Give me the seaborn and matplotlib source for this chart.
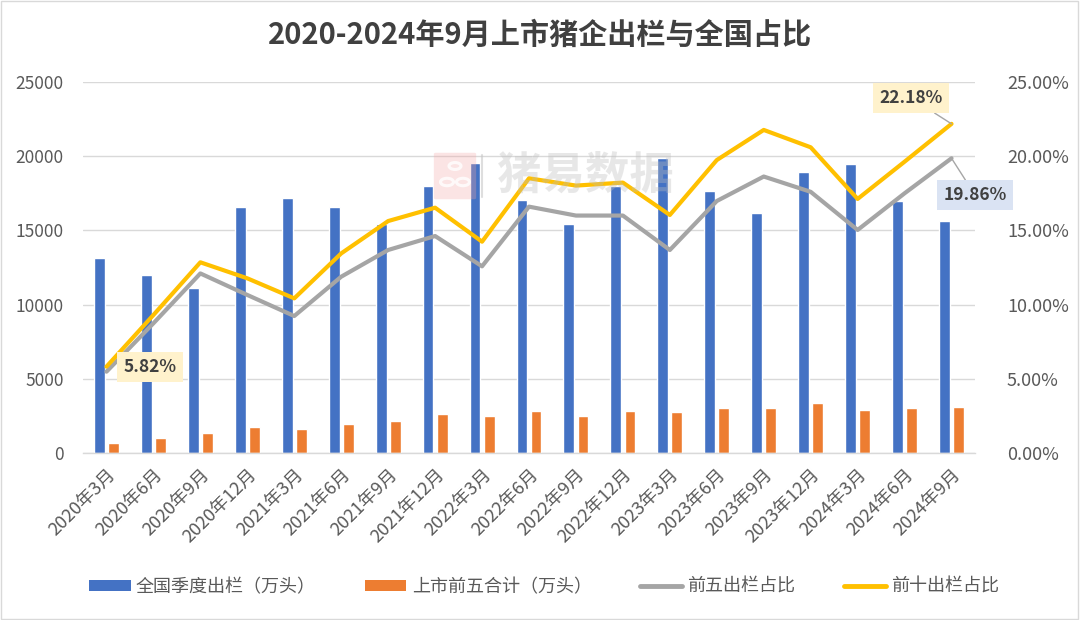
import numpy as np
import pandas as pd
import matplotlib
matplotlib.use('Agg')
import matplotlib.pyplot as plt
import seaborn as sns
from matplotlib.patches import Patch, Rectangle, FancyBboxPatch, Circle
from matplotlib.lines import Line2D
from matplotlib.ticker import FuncFormatter, MultipleLocator, FixedLocator

categories = ['2020年3月', '2020年6月', '2020年9月', '2020年12月',
              '2021年3月', '2021年6月', '2021年9月', '2021年12月',
              '2022年3月', '2022年6月', '2022年9月', '2022年12月',
              '2023年3月', '2023年6月', '2023年9月', '2023年12月',
              '2024年3月', '2024年6月', '2024年9月']
national = [13150, 12000, 11100, 16550, 17150, 16600, 15450, 18000, 19550, 17050,
            15450, 18000, 19900, 17650, 16200, 18950, 19450, 16950, 15650]
top5_total = [700, 1030, 1370, 1750, 1600, 1980, 2150, 2630, 2470, 2810,
              2470, 2850, 2760, 3010, 3010, 3350, 2900, 3010, 3120]
top5_share = [5.48, 8.74, 12.10, 10.65, 9.23, 11.88, 13.68, 14.62, 12.58, 16.60,
              16.00, 16.00, 13.68, 16.98, 18.63, 17.60, 15.03, 17.50, 19.86]
top10_share = [5.82, 9.30, 12.85, 11.77, 10.42, 13.45, 15.63, 16.53, 14.24, 18.51,
               18.02, 18.22, 16.04, 19.74, 21.77, 20.60, 17.12, 19.63, 22.18]
series_names = ['全国季度出栏（万头）', '上市前五合计（万头）', '前五出栏占比', '前十出栏占比']
title = '2020-2024年9月上市猪企出栏与全国占比'

BLUE, ORANGE, GRAY, YELLOW = '#4472C4', '#ED7D31', '#A5A5A5', '#FFC000'
TXT = '#595959'

sns.set_style('white')
plt.rcParams['font.family'] = ['Noto Sans CJK SC', 'DejaVu Sans']

W, H = 1080, 620
fig = plt.figure(figsize=(W / 100, H / 100), dpi=100)
ax = fig.add_axes([83 / W, 1 - 453 / H, (975 - 83) / W, (453 - 82) / H])

df = pd.DataFrame({
    'cat': categories * 2,
    'series': [series_names[0]] * len(categories) + [series_names[1]] * len(categories),
    'value': national + top5_total,
})
sns.barplot(data=df, x='cat', y='value', hue='series', order=categories,
            hue_order=series_names[:2], palette=[BLUE, ORANGE], saturation=1,
            width=0.6, gap=0.23, legend=False, ax=ax, zorder=2)
ax.set_xlim(-0.5, len(categories) - 0.5)
ax.set_ylim(0, 25000)
ax.yaxis.set_major_locator(MultipleLocator(5000))
ax.set_xlabel('')
ax.set_ylabel('')
ax.grid(axis='y', color='#D9D9D9', lw=1)
ax.set_axisbelow(True)
for s in ['top', 'left', 'right']:
    ax.spines[s].set_visible(False)
ax.spines['bottom'].set_color('#D9D9D9')
ax.spines['bottom'].set_linewidth(1)
ax.tick_params(axis='y', length=0, labelsize=12.5, labelcolor=TXT, pad=14)
ax.tick_params(axis='x', which='major', length=0, labelsize=13, labelcolor=TXT, pad=9)
ax.set_xticks(range(len(categories)))
ax.set_xticklabels(categories, rotation=45, ha='right', rotation_mode='anchor')
ax.xaxis.set_minor_locator(FixedLocator(np.arange(-0.5, len(categories), 1.0)))
ax.tick_params(axis='x', which='minor', length=6, color='#D9D9D9', width=1)

ax2 = ax.twinx()
xs = np.arange(len(categories))
sns.lineplot(x=xs, y=top5_share, ax=ax2, color=GRAY, lw=3)
sns.lineplot(x=xs, y=top10_share, ax=ax2, color=YELLOW, lw=3)
ax2.set_ylim(0, 25)
ax2.yaxis.set_major_locator(MultipleLocator(5))
ax2.yaxis.set_major_formatter(FuncFormatter(lambda v, p: f'{v:.2f}%'))
ax2.tick_params(axis='y', length=0, labelsize=13, labelcolor=TXT, pad=23)
ax2.grid(False)
for s in ax2.spines.values():
    s.set_visible(False)
ax2.set_ylabel('')

def px(x, y):
    return (x, H - y)

ax2.annotate(f'{top10_share[0]:.2f}%', xy=(0, top10_share[0]), xycoords='data',
             xytext=px(150, 367), textcoords='figure pixels', ha='center', va='center',
             fontsize=12.5, fontweight='bold', color='#404040',
             bbox=dict(boxstyle='square,pad=0.35', fc='#FFF2CC', ec='none'))
ax2.annotate(f'{top10_share[-1]:.2f}%', xy=(len(categories) - 1, top10_share[-1]), xycoords='data',
             xytext=px(911, 98), textcoords='figure pixels', ha='center', va='center',
             fontsize=12.5, fontweight='bold', color='#404040',
             bbox=dict(boxstyle='square,pad=0.35', fc='#FFF2CC', ec='none'),
             arrowprops=dict(arrowstyle='-', color='#A6A6A6', lw=1, shrinkA=0, shrinkB=0))
ax2.annotate(f'{top5_share[-1]:.2f}%', xy=(len(categories) - 1, top5_share[-1]), xycoords='data',
             xytext=px(975, 195), textcoords='figure pixels', ha='center', va='center',
             fontsize=12.5, fontweight='bold', color='#404040',
             bbox=dict(boxstyle='square,pad=0.35', fc='#DAE3F3', ec='none'),
             arrowprops=dict(arrowstyle='-', color='#A6A6A6', lw=1, shrinkA=0, shrinkB=0))

# title
fig.text(540 / W, 1 - 35 / H, title, ha='center', va='center', fontsize=21,
         fontweight='bold', color='#404040')

# watermark
fig.patches.append(FancyBboxPatch((436 / W, 1 - 198 / H), 38 / W, 44 / H,
                                  boxstyle='round,pad=0.002', transform=fig.transFigure,
                                  fc='#F4A6A6', ec='none', alpha=0.3, zorder=10))
for (cx, cy, r) in [(455, 166, 6), (447, 182, 6.5), (463, 182, 6.5)]:
    fig.patches.append(Circle((cx / W, 1 - cy / H), r / W, transform=fig.transFigure,
                              fc='none', ec='white', lw=2.2, alpha=0.8, zorder=11))
fig.lines.append(Line2D([482 / W, 482 / W], [1 - 155 / H, 1 - 197 / H],
                        transform=fig.transFigure, color='#C8C8C8', lw=1.5, alpha=0.6, zorder=10))
fig.text(586 / W, 1 - 176 / H, '猪易数据', ha='center', va='center', fontsize=32,
         color='#BDBDBD', alpha=0.35, zorder=10, fontweight='bold')

# legend
handles = [Patch(fc=BLUE, ec='none'), Patch(fc=ORANGE, ec='none'),
           Line2D([], [], color=GRAY, lw=3.5), Line2D([], [], color=YELLOW, lw=3.5)]
leg = fig.legend(handles, series_names, loc='center', bbox_to_anchor=(544 / W, 33 / H),
                 ncol=4, frameon=False, fontsize=13, handlelength=2.3, handleheight=0.6,
                 handletextpad=0.3, columnspacing=2.7)
for t in leg.get_texts():
    t.set_color(TXT)

# outer border
fig.patches.append(Rectangle((0.001, 0.002), 0.997, 0.996, transform=fig.transFigure,
                             fill=False, ec='#D9D9D9', lw=1))

fig.savefig('out.png', dpi=100)
